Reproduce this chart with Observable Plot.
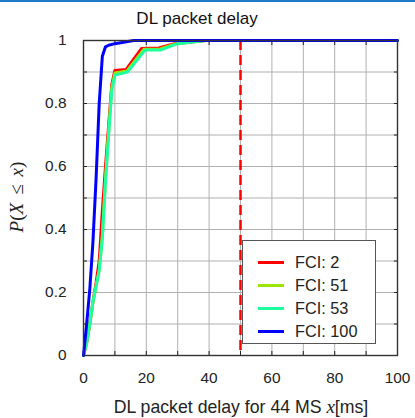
<!DOCTYPE html>
<html><head><meta charset="utf-8">
<script src="https://cdn.jsdelivr.net/npm/d3@7"></script>
<script src="https://cdn.jsdelivr.net/npm/@observablehq/plot@0.6"></script>
<style>
body{margin:0;background:#fff;}
#wrap{position:relative;width:415px;height:418px;overflow:hidden;background:#fff;}
#topbar{position:absolute;left:0;top:0;width:415px;height:2px;background:#1e7bc4;}
#legend{position:absolute;left:242px;top:240px;width:132px;height:102px;border:1px solid #555;background:#fff;}
.row{position:absolute;left:0;height:20px;width:132px;}
.sw{position:absolute;left:15px;top:9px;width:26px;height:3px;}
.lt{position:absolute;left:52px;top:0;line-height:20px;font-family:"Liberation Sans",Arial,sans-serif;font-size:16.3px;color:#222;white-space:nowrap;}
</style></head>
<body>
<div id="wrap">
<div id="chart"></div>
<div id="topbar"></div>
<div id="legend"></div>
</div>
<script>
// ---- data ----
const titleText = "DL packet delay";
const xLabelText = "DL packet delay for 44 MS ";
const seriesNames = ["FCI: 2", "FCI: 51", "FCI: 53", "FCI: 100"];
const seriesColors = ["#ff0000", "#9be600", "#1effa0", "#0000ff"];

const xFci2 = [0, 1, 2, 3, 4, 5, 6, 7, 8, 9, 10, 13.6, 18.5, 24, 29, 39, 100];
const yFci2 = [0, 0.04, 0.1, 0.17, 0.23, 0.3, 0.46, 0.6, 0.73, 0.86, 0.905, 0.908, 0.975, 0.976, 0.99, 1, 1];

const xFci51 = [0, 1, 2, 3, 4, 5, 6, 7, 8, 9, 10, 13.8, 19.2, 24.4, 29.6, 38.5, 100];
const yFci51 = [0, 0.04, 0.1, 0.17, 0.22, 0.27, 0.38, 0.56, 0.71, 0.85, 0.897, 0.903, 0.972, 0.973, 0.99, 1, 1];

const xFci53 = [0, 1, 2, 3, 4, 5, 6, 7, 8, 9, 10, 14, 19.6, 24.6, 30, 39, 100];
const yFci53 = [0, 0.04, 0.1, 0.17, 0.22, 0.27, 0.37, 0.55, 0.7, 0.84, 0.89, 0.9, 0.97, 0.97, 0.99, 1, 1];

const xFci100 = [0, 1, 2, 3, 4, 5, 6, 7, 8, 10, 16, 100];
const yFci100 = [0, 0.1, 0.21, 0.36, 0.56, 0.8, 0.95, 0.98, 0.985, 0.99, 1, 1];

const threshold = [50];
const xGrid = [0, 10, 20, 30, 40, 50, 60, 70, 80, 90, 100];
const yGrid = [0, 0.1, 0.2, 0.3, 0.4, 0.5, 0.6, 0.7, 0.8, 0.9, 1];
const xTickLabels = [0, 20, 40, 60, 80, 100];
const yTickLabels = [0, 0.2, 0.4, 0.6, 0.8, 1];

const xs = [xFci2, xFci51, xFci53, xFci100];
const ys = [yFci2, yFci51, yFci53, yFci100];
const tables = xs.map((xa, k) => xa.map((x, i) => ({x, y: ys[k][i], name: seriesNames[k]})));

const tickOpts = {label: null, tickFormat: () => "", stroke: "#222", strokeWidth: 1};
const SANS = "Liberation Sans, Arial, sans-serif";

const chart = Plot.plot({
  width: 415, height: 418,
  marginLeft: 83, marginRight: 18, marginTop: 40, marginBottom: 63,
  style: {fontFamily: SANS, fontSize: "15.4px", color: "#222", background: "transparent"},
  x: {domain: [0, 100]},
  y: {domain: [0, 1]},
  marks: [
    Plot.gridX(xGrid, {stroke: "#b0b0b0", strokeOpacity: 1, strokeWidth: 1}),
    Plot.gridY(yGrid, {stroke: "#b0b0b0", strokeOpacity: 1, strokeWidth: 1}),
    Plot.axisX(xGrid, {anchor: "bottom", tickSize: -4, ...tickOpts}),
    Plot.axisX(xGrid, {anchor: "top", tickSize: -4, ...tickOpts}),
    Plot.axisY(yGrid, {anchor: "left", tickSize: -4, ...tickOpts}),
    Plot.axisY(yGrid, {anchor: "right", tickSize: -4, ...tickOpts}),
    Plot.axisX(xTickLabels, {anchor: "bottom", tickSize: 0, tickPadding: 17, label: null, fontSize: 15.4, tickFormat: d => String(d)}),
    Plot.axisY(yTickLabels, {anchor: "left", tickSize: 0, tickPadding: 17, label: null, fontSize: 15.4, tickFormat: d => String(d)}),
    Plot.ruleX(threshold, {stroke: "#ff0000", strokeWidth: 2.5, strokeDasharray: "10,5"}),
    ...tables.map((t, k) => Plot.line(t, {x: "x", y: "y", stroke: seriesColors[k], strokeWidth: 3, strokeLinejoin: "round"})),
    Plot.frame({stroke: "#333", strokeWidth: 1.4})
  ]
});
document.getElementById("chart").appendChild(chart);

const svg = d3.select(chart);
// title
svg.append("text").attr("x", 197).attr("y", 24).attr("text-anchor", "middle")
  .attr("font-family", SANS).attr("font-size", 17).attr("fill", "#111").text(titleText);
// x label
const xl = svg.append("text").attr("x", 241).attr("y", 413).attr("text-anchor", "middle")
  .attr("font-family", SANS).attr("font-size", 17.7).attr("fill", "#222");
xl.append("tspan").text(xLabelText);
xl.append("tspan").attr("font-family", "Liberation Serif, serif").attr("font-style", "italic").attr("font-size", 19).text("x");
xl.append("tspan").text("[ms]");
// y label
const yl = svg.append("text").attr("transform", "translate(23,197) rotate(-90)").attr("text-anchor", "middle")
  .attr("font-family", "Liberation Serif, serif").attr("font-size", 19).attr("fill", "#222");
yl.append("tspan").attr("font-style", "italic").text("P");
yl.append("tspan").text("(");
yl.append("tspan").attr("font-style", "italic").text("X");
yl.append("tspan").attr("dx", 8).text("≤");
yl.append("tspan").attr("dx", 8).attr("font-style", "italic").text("x");
yl.append("tspan").text(")");

const legend = document.getElementById("legend");
const rowTops = [11, 34, 57, 80];
seriesNames.forEach((n, k) => {
  const r = document.createElement("div");
  r.className = "row";
  r.style.top = rowTops[k] + "px";
  r.innerHTML = `<div class="sw" style="background:${seriesColors[k]}"></div><div class="lt">${n}</div>`;
  legend.appendChild(r);
});
</script>
</body></html>
